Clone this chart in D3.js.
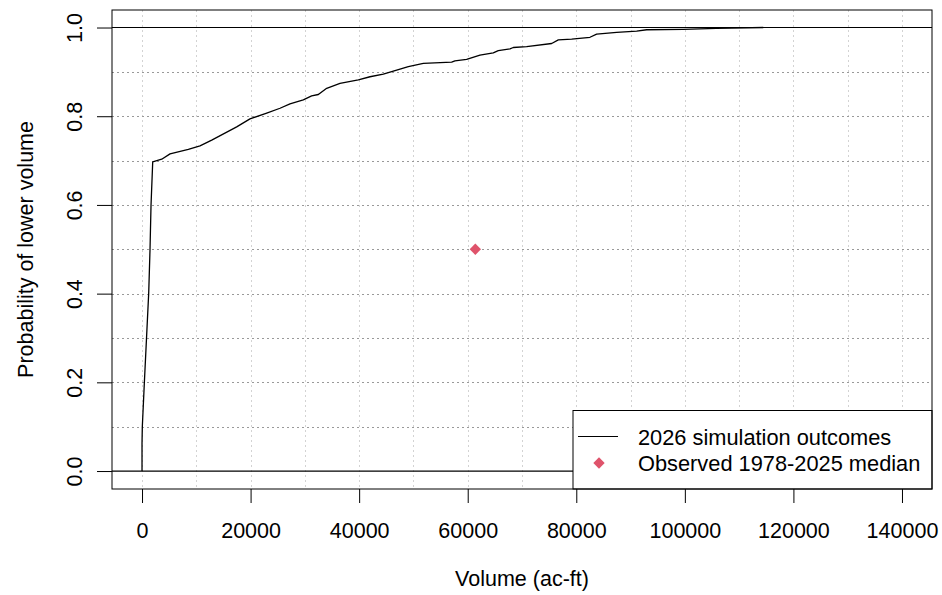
<!DOCTYPE html>
<html>
<head>
<meta charset="utf-8">
<script src="https://cdn.jsdelivr.net/npm/d3@7"></script>
<style>
  html, body { margin: 0; padding: 0; background: #fff; }
  svg { display: block; font-family: "Liberation Sans", Arial, sans-serif; }
</style>
</head>
<body>
<svg id="chart" width="942" height="595"></svg>
<script>
// ---- data ----
const volumes = [0, 0, 55, 425, 1230, 1470, 1660, 1970, 3630, 5160, 8530, 10680, 12840, 17440, 19890, 22970, 25420, 27260, 29710, 31250, 32480, 34020, 36470, 39850, 42000, 44450, 46910, 49060, 51820, 57040, 57650, 59800, 62260, 64710, 65630, 67790, 68390, 70860, 75470, 76690, 79150, 82520, 83750, 87440, 91120, 92960, 99700, 105800, 114450];
const probs = [0, 0.063, 0.100, 0.198, 0.401, 0.498, 0.600, 0.697, 0.703, 0.715, 0.725, 0.733, 0.746, 0.776, 0.794, 0.807, 0.818, 0.828, 0.837, 0.846, 0.849, 0.863, 0.874, 0.882, 0.889, 0.895, 0.904, 0.912, 0.919, 0.922, 0.925, 0.928, 0.938, 0.943, 0.948, 0.952, 0.955, 0.957, 0.964, 0.972, 0.974, 0.978, 0.985, 0.989, 0.992, 0.995, 0.996, 0.998, 1.0];
const medianVolume = [61400];
const medianProb = [0.5];
const xTicks = [0, 20000, 40000, 60000, 80000, 100000, 120000, 140000];
const yTicks = [0.0, 0.2, 0.4, 0.6, 0.8, 1.0];
const xGrid = [0, 10000, 20000, 30000, 40000, 50000, 60000, 70000, 80000, 90000, 100000, 110000, 120000, 130000, 140000];
const yGrid = [0.1, 0.2, 0.3, 0.4, 0.5, 0.6, 0.7, 0.8, 0.9];
const legendLabels = ["2026 simulation outcomes", "Observed 1978-2025 median"];
const xTitle = "Volume (ac-ft)";
const yTitle = "Probability of lower volume";

// ---- layout ----
const svg = d3.select("#chart");
const L = 112, R = 932, T = 10, B = 489;
const fs = 21.5;
const x = d3.scaleLinear().domain([-5530, 145530]).range([L, R]);
const y = d3.scaleLinear().domain([-0.0405, 1.0395]).range([B, T]);

// grid
const g = svg.append("g");
g.selectAll(".vg").data(xGrid).join("line")
  .attr("x1", d => Math.round(x(d)) + 0.5).attr("x2", d => Math.round(x(d)) + 0.5)
  .attr("y1", T).attr("y2", B)
  .attr("stroke", "#d3d3d3").attr("stroke-width", 1).attr("stroke-dasharray", "2,3");
g.selectAll(".hg").data(yGrid).join("line")
  .attr("x1", L).attr("x2", R)
  .attr("y1", d => Math.round(y(d)) + 0.5).attr("y2", d => Math.round(y(d)) + 0.5)
  .attr("stroke", "#999").attr("stroke-width", 1).attr("stroke-dasharray", "2,3");

// 0 and 1 reference lines
g.selectAll(".ref").data([0, 1]).join("line")
  .attr("x1", L).attr("x2", R)
  .attr("y1", d => y(d)).attr("y2", d => y(d))
  .attr("stroke", "#000").attr("stroke-width", 1.2);

// ECDF curve
const pts = volumes.map((v, i) => [v, probs[i]]);
const line = d3.line().x(d => x(d[0])).y(d => y(d[1]));
g.append("path").datum(pts).attr("d", line)
  .attr("fill", "none").attr("stroke", "#000").attr("stroke-width", 1.3)
  .attr("stroke-linejoin", "round");

// median point
const diamond = d3.symbol().type(d3.symbolSquare).size(64);
g.selectAll(".med").data(medianVolume).join("path")
  .attr("d", diamond())
  .attr("transform", (d, i) => `translate(${x(d)},${y(medianProb[i])}) rotate(45)`)
  .attr("fill", "#DF536B");

// legend
const lg = svg.append("g");
lg.append("rect").attr("x", 573).attr("y", 410.5).attr("width", R - 573).attr("height", B - 410.5)
  .attr("fill", "#fff").attr("stroke", "#000").attr("stroke-width", 1);
lg.append("line").attr("x1", 578).attr("x2", 618).attr("y1", 436.5).attr("y2", 436.5)
  .attr("stroke", "#000").attr("stroke-width", 1.2);
lg.append("path").attr("d", diamond()).attr("transform", "translate(599,463) rotate(45)").attr("fill", "#DF536B");
lg.selectAll("text").data(legendLabels).join("text")
  .attr("x", 638).attr("y", (d, i) => 444.5 + i * 26)
  .attr("font-size", fs + 0.3).attr("fill", "#000").text(d => d);

// plot box
svg.append("rect").attr("x", L).attr("y", T).attr("width", R - L).attr("height", B - T)
  .attr("fill", "none").attr("stroke", "#000").attr("stroke-width", 1);

// x axis
const xAxis = d3.axisBottom(x).tickValues(xTicks).tickFormat(d3.format("d")).tickSize(14).tickPadding(20);
const xa = svg.append("g").attr("transform", `translate(0,${B})`).call(xAxis);
xa.select(".domain").remove();
xa.selectAll("text").attr("font-size", fs).attr("font-family", "Liberation Sans, Arial, sans-serif").attr("fill", "#000");
xa.selectAll("line").attr("stroke", "#000");

// y axis
const yAxis = d3.axisLeft(y).tickValues(yTicks).tickFormat(d3.format(".1f")).tickSize(15).tickPadding(0);
const ya = svg.append("g").attr("transform", `translate(${L},0)`).call(yAxis);
ya.select(".domain").remove();
ya.selectAll("line").attr("stroke", "#000");
ya.selectAll("text")
  .attr("font-size", fs).attr("font-family", "Liberation Sans, Arial, sans-serif").attr("fill", "#000")
  .attr("text-anchor", "middle").attr("dy", null).attr("x", null)
  .attr("transform", "translate(-30,0) rotate(-90)");

// titles
svg.append("text").attr("x", (L + R) / 2).attr("y", 586).attr("text-anchor", "middle")
  .attr("font-size", fs).text(xTitle);
svg.append("text").attr("transform", `translate(33,${(T + B) / 2}) rotate(-90)`)
  .attr("text-anchor", "middle").attr("font-size", fs).text(yTitle);
</script>
</body>
</html>
